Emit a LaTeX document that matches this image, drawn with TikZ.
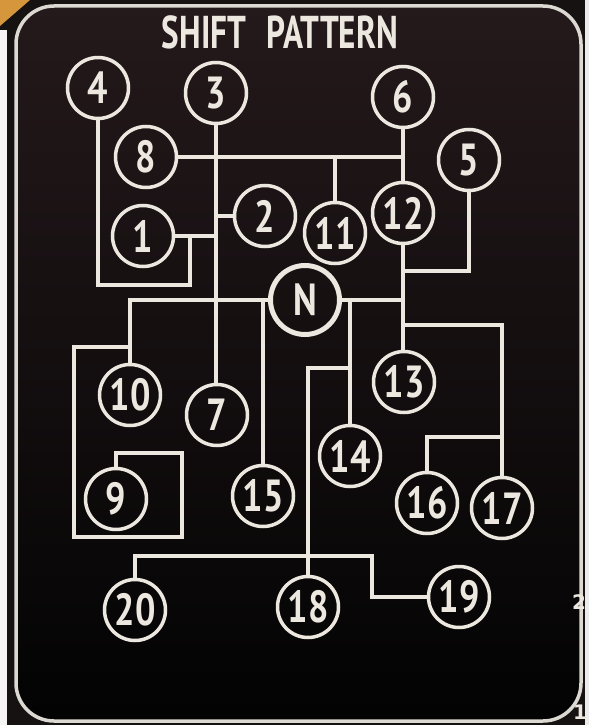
\documentclass[tikz,border=0pt]{standalone}
\usepackage{fontspec}
\newfontfamily\numfont[FakeStretch=0.80]{PT Sans Bold}
\newfontfamily\titlefont[FakeStretch=0.72]{PT Sans Bold}
\newfontfamily\edgefont{DejaVu Sans Bold}
\definecolor{linecol}{RGB}{236,232,224}
\definecolor{platetop}{RGB}{36,25,27}
\definecolor{platemid}{RGB}{12,9,10}
\definecolor{platebot}{RGB}{3,3,3}
\definecolor{edgedark}{RGB}{22,18,18}
\definecolor{orangepatch}{RGB}{214,150,60}
\begin{document}
\begin{tikzpicture}[x=1pt,y=-1pt,
  gear/.style={circle,draw=linecol,line width=3.5pt,minimum size=61pt,inner sep=0pt,
    text=linecol,font=\numfont\fontsize{45}{45}\selectfont},
  neutral/.style={gear,line width=5pt,minimum size=69pt},
  link/.style={draw=linecol,line width=4pt,line join=miter,line cap=butt},
  rim/.style={draw=linecol!85!gray,line width=3.5pt,rounded corners=38pt},
  edgelabel/.style={text=linecol,inner sep=0pt}]
\useasboundingbox (0,0) rectangle (589,725);
% surroundings
\fill[edgedark] (0,0) rectangle (589,725);
\fill[white!92!gray] (0,30) rectangle (7,725);
\fill[white!85!gray] (585,0) rectangle (589,725);
\fill[orangepatch] (0,0) -- (30,0) -- (0,26) -- cycle;
% plate
\shade[top color=platetop,middle color=platemid,bottom color=platebot,rounded corners=38pt] (16,6) rectangle (581,721);
\draw[rim] (16,6) rectangle (581,721);
% title
\node[text=linecol,font=\titlefont\fontsize{46}{46}\selectfont,inner sep=0pt] (title) at (280,32) {SHIFT\hspace{0.45em}PATTERN};
% gear positions
\node[gear] (g4) at (98,88) {4};
\node[gear] (g3) at (216,93) {3};
\node[gear] (g6) at (403,97) {6};
\node[gear] (g8) at (146,157) {8};
\node[gear] (g5) at (469,160) {5};
\node[gear] (g2) at (265,216) {2};
\node[gear] (g12) at (403,213) {12};
\node[gear] (g11) at (335,233) {11};
\node[gear] (g1) at (143,236) {1};
\node[neutral] (gN) at (305,300) {N};
\node[gear] (g10) at (130,395) {10};
\node[gear] (g7) at (217,415) {7};
\node[gear] (g13) at (404,382) {13};
\node[gear] (g14) at (350,456) {14};
\node[gear] (g15) at (263,496) {15};
\node[gear] (g9) at (116,499) {9};
\node[gear] (g16) at (427,503) {16};
\node[gear] (g17) at (502,508) {17};
\node[gear] (g20) at (135,610) {20};
\node[gear] (g18) at (308,607) {18};
\node[gear] (g19) at (459,597) {19};
% junction coordinates
\coordinate (loop4) at (190,285);
\coordinate (c5) at (469,271);
\coordinate (c10) at (130,347);
\coordinate (c9a) at (74,537);
\coordinate (c9b) at (182,453);
\coordinate (c18) at (350,368);
\coordinate (cbot) at (372,556);
\coordinate (c17) at (404,325);
\coordinate (c16) at (502,437);
% connectors
\draw[link] (g3.south) -- (g3.south |- g7.north);
\draw[link] (g8.east) -- (g8.east -| g6.south);
\draw[link] (g6.south) -- (g12.north);
\draw[link] (g11.north) -- (g11.north |- g8.east);
\draw[link] (g2.west) -- (g2.west -| g3.south);
\draw[link] (g1.east) -- (g1.east -| g3.south);
\draw[link] (g4.south) |- (loop4) -- (loop4 |- g1.east);
\draw[link] (g12.south) -- (g12.south |- g13.north);
\draw[link] (g5.south) -- (c5) -- (c5 -| g12.south);
\draw[link] (gN.west) -| (g10.north);
\draw[link] (gN.east) -- (gN.east -| g12.south);
\draw[link] (c10) -| (c9a) -| (c9b) -| (g9.north);
\draw[link] (g15.north) -- (g15.north |- gN.west);
\draw[link] (g14.north) -- (g14.north |- gN.east);
\draw[link] (c18) -| (g18.north);
\draw[link] (g20.north) |- (cbot) |- (g19.west);
\draw[link] (c17) -| (g17.north);
\draw[link] (c16) -| (g16.north);
% edge labels outside the plate
\node[edgelabel] (lab2) at (579,602) {\edgefont\fontsize{20}{20}\selectfont 2};
\node[edgelabel] (lab1) at (580,712) {\edgefont\fontsize{20}{20}\selectfont 1};
\end{tikzpicture}
\end{document}
